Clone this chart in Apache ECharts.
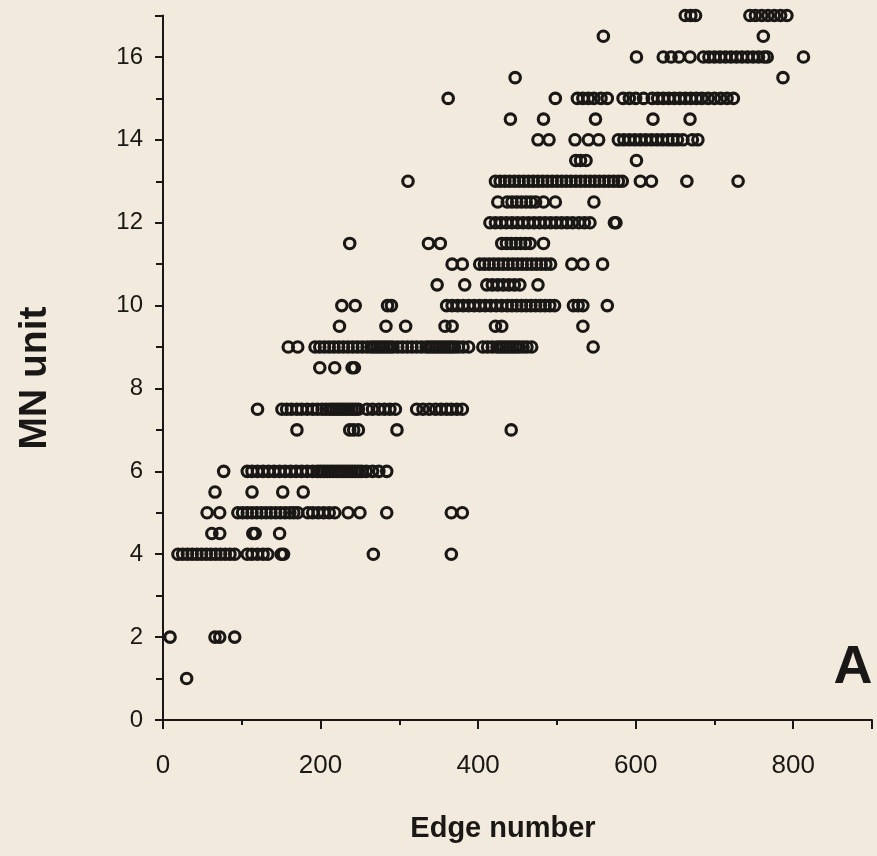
<!DOCTYPE html>
<html>
<head>
<meta charset="utf-8">
<script src="https://cdn.jsdelivr.net/npm/echarts@6/dist/echarts.min.js"></script>
<style>
html,body{margin:0;padding:0;background:#f2eadc;}
#chart{width:877px;height:856px;}
</style>
</head>
<body>
<div id="chart"></div>
<script>
// Edge numbers (x) observed at each MN unit level (y)
const mnAt1 = [30];
const mnAt2 = [9, 66, 72, 91];
const mnAt4 = [19, 25, 31, 37, 43, 49, 55, 61, 67, 73, 79, 85, 91, 107, 113, 120, 127, 133, 150, 153, 267, 366];
const mnAt4_5 = [62, 72, 114, 117, 148];
const mnAt5 = [56, 72, 95, 101, 107, 113, 119, 125, 131, 137, 143, 149, 155, 161, 166, 171, 184, 190, 197, 204, 211, 218, 235, 250, 284, 366, 380];
const mnAt5_5 = [66, 113, 152, 178];
const mnAt6 = [77, 107, 113, 120, 127, 134, 141, 148, 155, 162, 169, 176, 183, 190, 196, 200, 204, 208, 212, 216, 220, 224, 228, 232, 236, 240, 244, 248, 252, 258, 266, 274, 284];
const mnAt7 = [170, 237, 242, 248, 297, 442];
const mnAt7_5 = [120, 151, 157, 163, 170, 176, 183, 190, 196, 202, 207, 212, 216, 220, 224, 228, 232, 236, 240, 244, 248, 259, 266, 274, 281, 288, 295, 322, 330, 338, 346, 353, 360, 366, 373, 380];
const mnAt8_5 = [199, 218, 240, 243];
const mnAt9 = [159, 171, 193, 199, 205, 211, 217, 223, 229, 235, 241, 247, 253, 259, 264, 268, 272, 276, 280, 284, 288, 292, 298, 304, 310, 316, 322, 328, 334, 338, 342, 346, 350, 354, 358, 362, 366, 370, 375, 381, 388, 406, 412, 418, 424, 428, 432, 436, 440, 444, 448, 452, 457, 462, 468, 546];
const mnAt9_5 = [224, 283, 308, 358, 367, 422, 430, 533];
const mnAt10 = [227, 244, 285, 290, 360, 367, 374, 381, 388, 395, 402, 409, 416, 423, 430, 437, 443, 449, 455, 461, 467, 473, 479, 485, 491, 497, 521, 527, 533, 564];
const mnAt10_5 = [348, 383, 411, 418, 425, 432, 439, 446, 453, 476];
const mnAt11 = [367, 380, 402, 408, 414, 420, 426, 432, 438, 444, 450, 456, 462, 468, 474, 480, 486, 492, 519, 533, 558];
const mnAt11_5 = [237, 337, 352, 430, 436, 442, 448, 454, 460, 466, 483];
const mnAt12 = [415, 422, 429, 436, 443, 450, 457, 464, 471, 478, 485, 492, 499, 506, 513, 520, 528, 535, 542, 573, 575];
const mnAt12_5 = [425, 437, 443, 449, 455, 461, 467, 473, 483, 498, 547];
const mnAt13 = [311, 422, 428, 434, 440, 446, 452, 458, 464, 470, 476, 482, 488, 494, 500, 506, 512, 518, 524, 530, 536, 542, 548, 554, 560, 566, 572, 578, 583, 606, 620, 665, 730];
const mnAt13_5 = [524, 530, 537, 601];
const mnAt14 = [476, 490, 523, 540, 553, 578, 585, 592, 599, 606, 613, 620, 627, 634, 641, 647, 653, 660, 672, 679];
const mnAt14_5 = [441, 483, 549, 622, 669];
const mnAt15 = [362, 498, 526, 533, 540, 547, 556, 564, 584, 592, 600, 610, 621, 628, 635, 642, 649, 656, 663, 670, 677, 684, 692, 700, 708, 716, 724];
const mnAt15_5 = [447, 787];
const mnAt16 = [601, 635, 645, 655, 669, 686, 693, 700, 707, 714, 721, 728, 735, 742, 749, 756, 763, 767, 813];
const mnAt16_5 = [559, 762];
const mnAt17 = [663, 670, 676, 745, 752, 760, 768, 776, 784, 792];

const mnLevels = [1, 2, 4, 4.5, 5, 5.5, 6, 7, 7.5, 8.5, 9, 9.5, 10, 10.5, 11, 11.5, 12, 12.5, 13, 13.5, 14, 14.5, 15, 15.5, 16, 16.5, 17];
const edgeLists = [mnAt1, mnAt2, mnAt4, mnAt4_5, mnAt5, mnAt5_5, mnAt6, mnAt7, mnAt7_5, mnAt8_5, mnAt9, mnAt9_5, mnAt10, mnAt10_5, mnAt11, mnAt11_5, mnAt12, mnAt12_5, mnAt13, mnAt13_5, mnAt14, mnAt14_5, mnAt15, mnAt15_5, mnAt16, mnAt16_5, mnAt17];

const xTicks = [0, 200, 400, 600, 800];
const yTicks = [0, 2, 4, 6, 8, 10, 12, 14, 16];

const points = [];
mnLevels.forEach((lvl, i) => edgeLists[i].forEach(x => points.push([x, lvl])));

const chart = echarts.init(document.getElementById('chart'), null, {renderer: 'canvas'});
const ink = '#1a1816';
const font = '"Liberation Sans", Arial, Helvetica, sans-serif';
chart.setOption({
  backgroundColor: '#f2eadc',
  animation: false,
  grid: {left: 163, right: 5, top: 15.5, bottom: 136, containLabel: false},
  xAxis: {
    type: 'value', min: 0, max: 900, interval: 200,
    axisLine: {show: true, onZero: false, lineStyle: {color: ink, width: 2}},
    axisTick: {show: true, length: 9, lineStyle: {color: ink, width: 2}},
    minorTick: {show: true, splitNumber: 2, length: 5, lineStyle: {color: ink, width: 2}},
    splitLine: {show: false},
    axisLabel: {margin: 33, fontFamily: font, fontSize: 26, color: ink,
      formatter: v => xTicks.includes(v) ? String(v) : ''}
  },
  yAxis: {
    type: 'value', min: 0, max: 17, interval: 2,
    axisLine: {show: true, onZero: false, lineStyle: {color: ink, width: 2}},
    axisTick: {show: true, length: 8, lineStyle: {color: ink, width: 2}},
    minorTick: {show: true, splitNumber: 2, length: 7, lineStyle: {color: ink, width: 2}},
    splitLine: {show: false},
    axisLabel: {margin: 20, fontFamily: font, fontSize: 24, color: ink,
      formatter: v => yTicks.includes(v) ? String(v) : ''}
  },
  graphic: [
    {type: 'text', x: 503, y: 829,
     style: {text: 'Edge number', fontFamily: font, fontSize: 29, fontWeight: 'bold', fill: ink, align: 'center', verticalAlign: 'middle'}},
    {type: 'text', x: 35, y: 378, rotation: Math.PI / 2,
     style: {text: 'MN unit', fontFamily: font, fontSize: 39, fontWeight: 'bold', fill: ink, align: 'center', verticalAlign: 'middle'}},
    {type: 'text', x: 853, y: 668,
     style: {text: 'A', fontFamily: font, fontSize: 54, fontWeight: 'bold', fill: ink, align: 'center', verticalAlign: 'middle'}}
  ],
  series: [{
    type: 'scatter',
    data: points,
    clip: false,
    symbol: 'circle',
    symbolSize: 10.5,
    itemStyle: {color: 'rgba(0,0,0,0)', borderColor: ink, borderWidth: 3.1, opacity: 1}
  }]
});
</script>
</body>
</html>
